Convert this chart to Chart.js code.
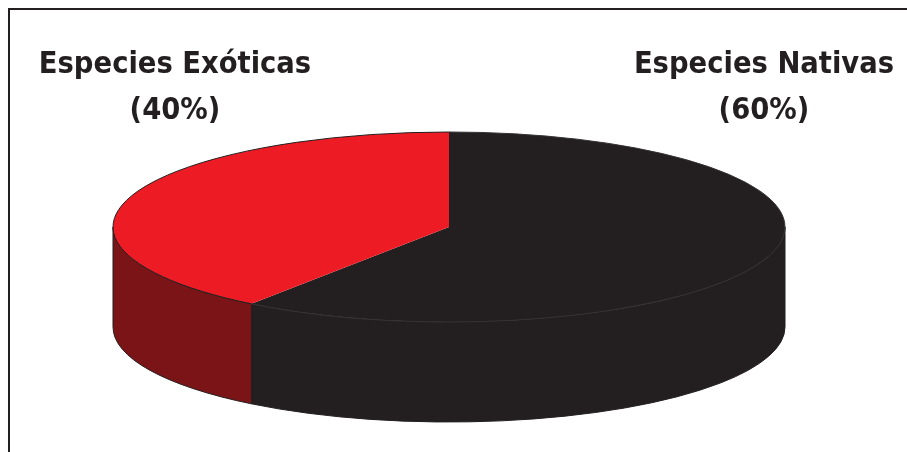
<!DOCTYPE html>
<html>
<head>
<meta charset="utf-8">
<script src="https://cdn.jsdelivr.net/npm/chart.js@4"></script>
<style>
  body { margin: 0; background: #fff; }
  #wrap { position: relative; width: 907px; height: 452px; overflow: hidden; }
  #frame { position: absolute; left: 8px; top: 8px; right: -4px; bottom: -4px;
           border-top: 2px solid #231F20; border-left: 2px solid #231F20; }
  canvas { position: absolute; left: 0; top: 0; }
  .lbl { position: absolute; width: 340px; text-align: center; color: #231F20;
         font-family: 'DejaVu Sans Condensed', 'DejaVu Sans', sans-serif; font-weight: bold;
         font-size: 30.5px; line-height: 30px; white-space: nowrap; }
</style>
</head>
<body>
<div id="wrap">
  <div id="frame"></div>
  <canvas id="pie" width="907" height="452"></canvas>
</div>
<script>
// data
const labels = ['Especies Nativas', 'Especies Exóticas'];
const values = [60, 40];
const topColors = ['#231F20', '#ED1C24'];
const sideColors = ['#231F20', '#7B1416'];

// where the labels sit (center x, top)
const labelPos = [[764, 48], [175, 48]];

// the flattened disc
const CX = 449, CY = 227, RX = 336, RY = 95, DEPTH = 100;

let wrap = document.getElementById('wrap');
labels.forEach((name, i) => {
  let d = document.createElement('div');
  d.className = 'lbl';
  d.style.left = (labelPos[i][0] - 170) + 'px';
  d.style.top = labelPos[i][1] + 'px';
  d.innerHTML = name + '<br><span style="line-height:62px">(' + values[i] + '%)</span>';
  wrap.appendChild(d);
});

function project(ctx, arc) {
  ctx.translate(CX, CY);
  ctx.scale(RX / arc.outerRadius, RY / arc.outerRadius);
  ctx.translate(-arc.x, -arc.y);
}

// parts of [a1,a2] that face the viewer (0..PI on canvas)
function frontParts(a1, a2) {
  let out = [];
  for (let k = -1; k <= 1; k++) {
    let lo = Math.max(a1, 2 * Math.PI * k), hi = Math.min(a2, 2 * Math.PI * k + Math.PI);
    if (hi > lo) out.push([lo, hi]);
  }
  return out;
}

function sidePath(ctx, arc, a1, a2) {
  let dy = DEPTH * arc.outerRadius / RY;
  ctx.save();
  project(ctx, arc);
  ctx.beginPath();
  ctx.arc(arc.x, arc.y, arc.outerRadius, a1, a2);
  ctx.arc(arc.x, arc.y + dy, arc.outerRadius, a2, a1, true);
  ctx.closePath();
  ctx.restore();
}

const pie3d = {
  id: 'pie3d',
  beforeDatasetsDraw(chart) {
    let ctx = chart.ctx;
    let arcs = chart.getDatasetMeta(0).data;
    arcs.forEach((arc, i) => {
      frontParts(arc.startAngle, arc.endAngle).forEach(p => {
        sidePath(ctx, arc, p[0], p[1]);
        ctx.fillStyle = sideColors[i];
        ctx.fill();
        ctx.lineWidth = 1;
        ctx.strokeStyle = '#231F20';
        ctx.stroke();
      });
    });
    ctx.save();
    project(ctx, arcs[0]);
  },
  afterDatasetsDraw(chart) {
    let ctx = chart.ctx;
    ctx.restore();
    let arcs = chart.getDatasetMeta(0).data;
    arcs.forEach((arc, i) => {
      ctx.save();
      project(ctx, arc);
      ctx.beginPath();
      ctx.arc(arc.x, arc.y, arc.outerRadius, arc.startAngle, arc.endAngle);
      ctx.restore();
      ctx.lineWidth = 1;
      ctx.strokeStyle = i == 0 ? '#363233' : '#231F20';
      ctx.stroke();
    });
  }
};

new Chart(document.getElementById('pie'), {
  type: 'pie',
  data: {
    labels: labels,
    datasets: [{
      data: values,
      backgroundColor: topColors,
      borderWidth: 0,
      clip: false
    }]
  },
  options: {
    responsive: false,
    animation: false,
    events: [],
    plugins: {
      legend: { display: false },
      tooltip: { enabled: false },
      title: { display: false }
    }
  },
  plugins: [pie3d]
});
</script>
</body>
</html>
